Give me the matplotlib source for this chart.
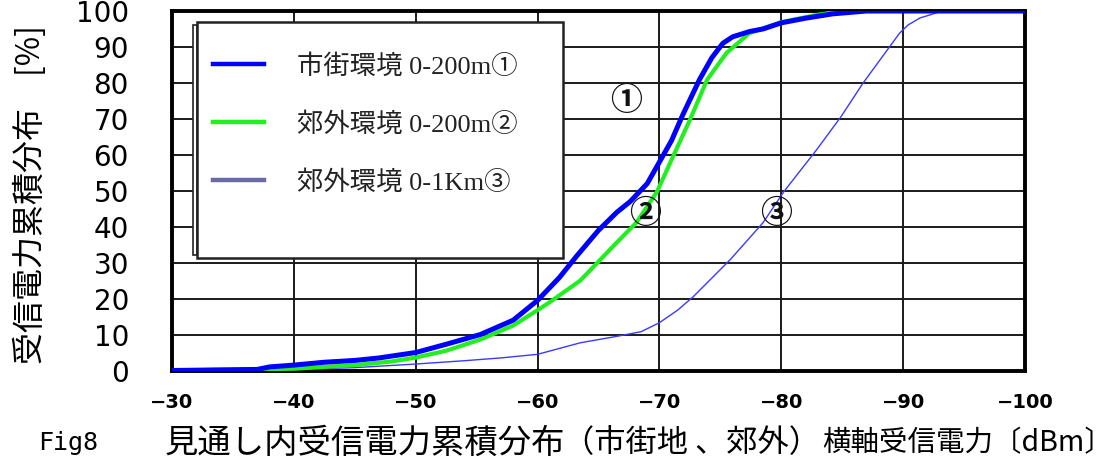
import matplotlib
matplotlib.use("Agg")
import matplotlib.pyplot as plt
from matplotlib.lines import Line2D
from matplotlib.patches import Rectangle

plt.rcParams['font.family'] = ['Noto Sans CJK JP', 'DejaVu Sans']

# ---- data (x: received power dBm, y: cumulative %) ----
urban_200_x = [-30, -37, -38, -40, -42.5, -45, -47, -50, -52.5, -55.3, -58, -60, -61.8, -63.2, -65,
               -66.5, -67.6, -69, -70, -71, -71.9, -73.3, -74.3, -75.2, -76, -77.4, -78.5, -80, -82,
               -84.2, -87, -100]
urban_200_y = [0, 0.3, 1.0, 1.5, 2.3, 2.8, 3.5, 5.0, 7.3, 10, 14, 19.5, 25.9, 31.8, 39,
               44, 47, 52, 58, 64, 71, 81, 87, 91, 92.8, 94.3, 95, 96.7, 98,
               99.2, 100, 100]

suburb_200_x = [-30, -40, -45, -48, -50, -52.5, -55.3, -58, -60, -61, -63.5, -66.5, -68.1, -69.8,
                -71.1, -72.5, -73.9, -75.5, -77.4, -80, -82.9, -85, -100]
suburb_200_y = [0, 0.5, 1.5, 2.5, 3.6, 5.5, 8.6, 12.5, 16.8, 19, 25, 35.6, 41.1, 49.7,
                59.4, 69.7, 80.8, 88.3, 93.9, 96.9, 98.9, 100, 100]

suburb_1k_x = [-30, -40, -45, -50, -53.9, -57, -60, -63.5, -66.5, -68.5, -70, -71.5, -72.8, -75.8,
               -78.5, -80.2, -82.9, -84.9, -86.7, -88.9, -89.7, -90.4, -91.4, -92.2, -93, -95, -100]
suburb_1k_y = [0, 0.3, 0.8, 1.8, 2.7, 3.5, 4.5, 7.7, 9.5, 10.8, 13.3, 16.8, 20.6, 30.8,
               41.1, 49.7, 61.4, 70.6, 79.9, 90.1, 93.8, 96.1, 98.1, 98.9, 99.8, 100, 100]

series_labels = ['市街環境 0-200m①', '郊外環境 0-200m②', '郊外環境 0-1Km③']

x_ticks = [-30, -40, -50, -60, -70, -80, -90, -100]
x_tick_labels = ['\u221230', '\u221240', '\u221250', '\u221260', '\u221270', '\u221280', '\u221290', '\u2212100']
y_ticks = [0, 10, 20, 30, 40, 50, 60, 70, 80, 90, 100]
y_tick_labels = ['0', '10', '20', '30', '40', '50', '60', '70', '80', '90', '100']

W, H = 1119, 466
fig = plt.figure(figsize=(W / 100, H / 100), dpi=100)
fig.patch.set_facecolor('white')

ax_l, ax_r, ax_t, ax_b = 172, 1025, 11, 370.5
ax = fig.add_axes([ax_l / W, 1 - ax_b / H, (ax_r - ax_l) / W, (ax_b - ax_t) / H])

def px_to_ax(px, py):
    return (px - ax_l) / (ax_r - ax_l), (ax_b - py) / (ax_b - ax_t)

ax.set_xlim(-30, -100)
ax.set_ylim(0, 100)
ax.set_xticks(x_ticks)
ax.set_xticklabels(x_tick_labels, fontfamily='DejaVu Sans', fontweight='bold', fontsize=14)
ax.set_yticks(y_ticks)
ax.set_yticklabels(y_tick_labels, fontfamily='DejaVu Sans', fontsize=20)
ax.tick_params(axis='x', length=0, pad=16)
ax.tick_params(axis='y', length=0, pad=31)
ax.grid(True, color='#1a1a1a', linewidth=1.4)
ax.set_axisbelow(True)
for s in ax.spines.values():
    s.set_linewidth(2.8)
    s.set_color('black')

c_blue = '#0000ff'
c_green = '#22ee22'
c_thin = '#3a3aff'
ax.plot(suburb_1k_x, suburb_1k_y, color=c_thin, linewidth=1.0, zorder=3)
ax.plot(suburb_200_x, suburb_200_y, color=c_green, linewidth=3.0, zorder=4)
ax.plot(urban_200_x, urban_200_y, color=c_blue, linewidth=3.6, zorder=5)

# curve annotations
for txt, (xx, yy) in zip(['①', '②', '③'], [(-67.3, 74.9), (-68.8, 43.6), (-79.6, 43.6)]):
    ax.text(xx, yy, txt, ha='center', va='center', fontsize=23, fontweight='bold',
            color='#111111', zorder=6)

# legend frame (with the left bevel line)
x0, y0 = px_to_ax(197, 258)
x1, y1 = px_to_ax(563, 22)
sx0, sy0 = px_to_ax(193, 255)
sx1, sy1 = px_to_ax(197, 25)
ax.add_patch(Rectangle((sx0, sy0), sx1 - sx0, sy1 - sy0, transform=ax.transAxes,
                       facecolor='white', edgecolor='#222222', linewidth=1.2, zorder=7))
ax.add_patch(Rectangle((x0, y0), x1 - x0, y1 - y0, transform=ax.transAxes,
                       facecolor='white', edgecolor='#222222', linewidth=1.8, zorder=8))

handles = [Line2D([], [], color=c_blue, linewidth=3.2),
           Line2D([], [], color=c_green, linewidth=3.2),
           Line2D([], [], color='#6a6aa6', linewidth=3.2)]
lx, ly = px_to_ax(213, 54)
leg = ax.legend(handles, series_labels, loc='upper left', bbox_to_anchor=(lx, ly),
                frameon=False, borderpad=0, borderaxespad=0, handlelength=1.95,
                handletextpad=1.25, labelspacing=1.26,
                prop={'family': ['Liberation Serif', 'Noto Sans CJK JP'], 'size': 19})
leg.set_zorder(9)
for t in leg.get_texts():
    t.set_color('#222222')

# y label
ax.set_ylabel('受信電力累積分布\u3000[%]', fontsize=23, fontfamily=['Noto Sans CJK JP', 'DejaVu Sans'],
              va='center', ha='center')
lbx, lby = px_to_ax(30, 194)
ax.yaxis.set_label_coords(lbx, lby)

# caption
cy = 1 - 443 / H
fig.text(38 / W, cy, 'Fig8', fontfamily='DejaVu Sans Mono', fontsize=18, va='center', ha='left')
fig.text(165 / W, cy, '見通し内受信電力累積分布', fontsize=24, va='center', ha='left')
fig.text(563 / W, cy, '（市街地 、郊外）', fontsize=22.5, va='center', ha='left')
fig.text(822 / W, cy, '横軸受信電力〔dBm〕', fontsize=20.5, va='center', ha='left')

fig.savefig('out.png', dpi=100)
